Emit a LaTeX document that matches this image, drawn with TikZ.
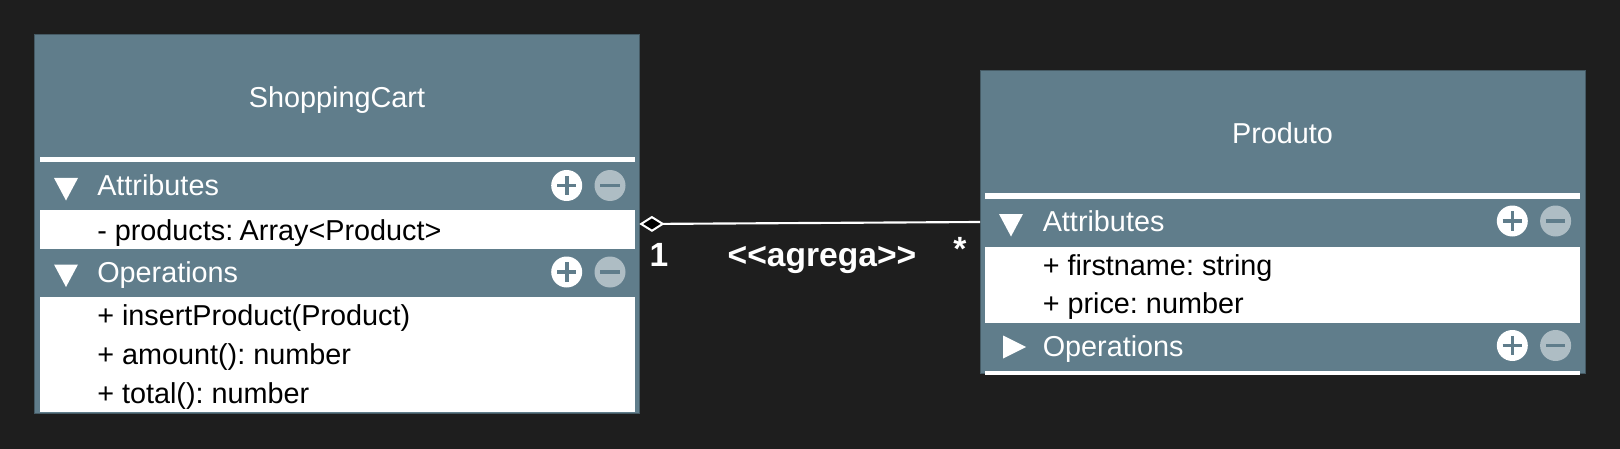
\documentclass[tikz,border=0pt]{standalone}
\usepackage{fontspec}
\setmainfont{Liberation Sans}
\usetikzlibrary{arrows.meta}
\definecolor{bg}{HTML}{1E1E1E}
\definecolor{band}{HTML}{607D8B}
\definecolor{edge}{HTML}{455A64}
\definecolor{minusc}{HTML}{AEBDC4}
\frenchspacing
\tikzset{
  x=0.75pt,y=-0.75pt,
  classbox/.style={draw=edge,line width=0.75pt,fill=band,inner sep=0,outer sep=0,rectangle},
  title/.style={text=white,font=\fontsize{21.6}{26}\selectfont,inner sep=0},
  band label/.style={text=white,font=\fontsize{21.6}{26}\selectfont,inner sep=0,anchor=base west},
  row label/.style={text=black,font=\fontsize{21.6}{26}\selectfont,inner sep=0,anchor=base west},
  rel label/.style={text=white,font=\fontsize{25.2}{30}\selectfont\bfseries,inner sep=0,anchor=base},
  plus circle/.style={circle,fill=white,inner sep=0,minimum size=23.25pt},
  minus circle/.style={circle,fill=minusc,inner sep=0,minimum size=23.25pt},
  glyph/.style={draw=band,line width=2.7pt},
  assoc/.style={draw=white,line width=1.6pt,{Diamond[open,fill=black,length=19pt,width=12pt,line width=1.5pt]}-},
}
\newcommand{\btns}[3]{%
  \node[plus circle] (#1p) at (#2,#3) {};
  \node[minus circle] (#1m) at (#2+43.3,#3) {};
  \draw[glyph] (#2-9.7,#3) -- (#2+9.7,#3) (#2,#3-9.7) -- (#2,#3+9.7);
  \draw[glyph] (#2+33.6,#3) -- (#2+53,#3);
}
\begin{document}
\begin{tikzpicture}
\useasboundingbox (0,0) rectangle (1620,449);
\fill[bg] (0,0) rectangle (1620,449);
% boxes
\node[classbox,minimum width=453.75pt,minimum height=283.5pt] (cart) at (336.75,224) {};
\node[classbox,minimum width=453.75pt,minimum height=227.25pt] (produto) at (1282.5,222) {};
% ShoppingCart compartments
\fill[white] (39.5,157.5) rectangle (634.5,162.5);
\fill[white] (39.5,210) rectangle (634.5,248.5);
\fill[white] (39.5,296.5) rectangle (634.5,412);
\node[title] (carttitle) at (337,100) {ShoppingCart};
\fill[white] (54,178) -- (78,178) -- (66,200.5) -- cycle;
\fill[white] (54,264.5) -- (78,264.5) -- (66,287) -- cycle;
\node[band label] (ca) at (97,195.5) {Attributes};
\node[row label] (c1) at (97,240) {- products: \kern-1.2pt Array<Product>};
\node[band label] (co) at (97,282.5) {Operations};
\node[row label] (c2) at (97,325.5) {+ insertProduct(Product)};
\node[row label] (c3) at (97,364) {+ amount(): number};
\node[row label] (c4) at (97,403) {+ total(): number};
\btns{ca}{566.7}{185.5}
\btns{co}{566.7}{272}
% Produto compartments
\fill[white] (985,193.5) rectangle (1580,198.5);
\fill[white] (985,246.5) rectangle (1580,322.5);
\fill[white] (985,370.5) rectangle (1580,375);
\node[title] (prodtitle) at (1282.5,133.5) {Produto};
\fill[white] (999,214) -- (1023,214) -- (1011,236.5) -- cycle;
\fill[white] (1003,335.5) -- (1003,358.5) -- (1026,347) -- cycle;
\node[band label] (pa) at (1042.5,231.5) {Attributes};
\node[row label] (p1) at (1042.5,275.5) {+ firstname: string};
\node[row label] (p2) at (1042.5,313.8) {+ price: number};
\node[band label] (po) at (1042.5,356.5) {Operations};
\btns{pa}{1512.3}{221}
\btns{po}{1512.3}{345.5}
% connector
\draw[assoc] (cart.east) -- (produto.west);
\node[rel label] (one) at (659,266) {1};
\node[rel label] (name) at (822,266) {<{}<agrega>{}>};
\node[rel label] (star) at (960,260.5) {*};
\end{tikzpicture}
\end{document}
